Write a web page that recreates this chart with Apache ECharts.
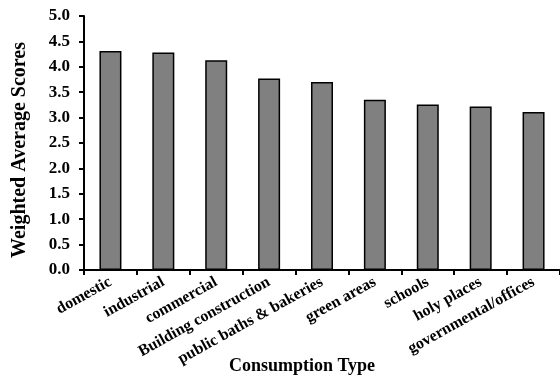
<!DOCTYPE html>
<html>
<head>
<meta charset="utf-8">
<script src="https://cdn.jsdelivr.net/npm/echarts@6/dist/echarts.min.js"></script>
<style>
html,body{margin:0;padding:0;background:#fff;}
#chart{width:560px;height:378px;}
</style>
</head>
<body>
<div id="chart"></div>
<script>
const categories = ["domestic", "industrial", "commercial", "Building construction", "public baths & bakeries", "green areas", "schools", "holy places", "governmental/offices"];
const scores = [4.31, 4.28, 4.13, 3.77, 3.70, 3.35, 3.26, 3.22, 3.11];
const yMin = 0, yMax = 5, yStep = 0.5;
const FONT = '"Liberation Serif", "Times New Roman", serif';

const chart = echarts.init(document.getElementById('chart'), null, {renderer: 'canvas'});
chart.setOption({
  animation: false,
  backgroundColor: '#fff',
  grid: {left: 84, right: 0, top: 16, bottom: 108, containLabel: false, outerBoundsMode: 'none'},
  xAxis: {
    type: 'category',
    data: categories,
    name: 'Consumption Type',
    nameLocation: 'middle',
    nameGap: 87,
    nameMoveOverlap: false,
    nameTextStyle: {fontFamily: FONT, fontWeight: 'bold', fontSize: 18, color: '#000', padding: [0, 40, 0, 0]},
    axisLine: {lineStyle: {color: '#000', width: 2}},
    axisTick: {show: true, length: 5, lineStyle: {color: '#000', width: 2}},
    axisLabel: {rotate: 29, margin: 11, fontFamily: FONT, fontWeight: 'bold', fontSize: 16, color: '#000', interval: 0}
  },
  yAxis: {
    type: 'value',
    min: yMin, max: yMax, interval: yStep,
    name: 'Weighted Average Scores',
    nameLocation: 'middle',
    nameGap: 54,
    nameMoveOverlap: false,
    nameTextStyle: {fontFamily: FONT, fontWeight: 'bold', fontSize: 20, color: '#000', padding: [0, 14, 0, 0]},
    axisLine: {show: true, lineStyle: {color: '#000', width: 2}},
    axisTick: {show: true, length: 5, lineStyle: {color: '#000', width: 2}},
    splitLine: {show: false},
    axisLabel: {margin: 14, fontFamily: FONT, fontWeight: 'bold', fontSize: 17, color: '#000', formatter: v => v.toFixed(1)}
  },
  series: [{
    type: 'bar',
    data: scores,
    barWidth: 22,
    itemStyle: {color: '#808080', borderColor: '#000', borderWidth: 1.5}
  }]
});
</script>
</body>
</html>
